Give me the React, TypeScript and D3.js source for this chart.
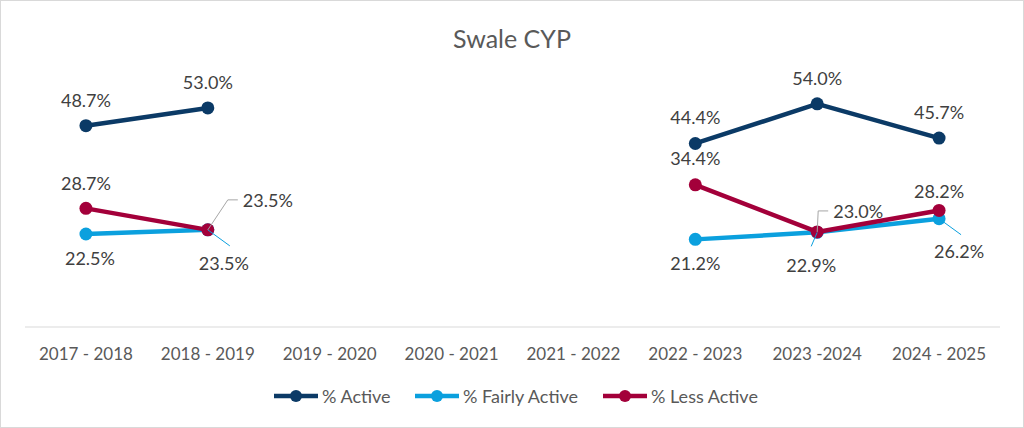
import * as d3 from "d3";

const categories = [
  "2017 - 2018", "2018 - 2019", "2019 - 2020", "2020 - 2021",
  "2021 - 2022", "2022 - 2023", "2023 -2024", "2024 - 2025",
];

const activeValues = [48.7, 53.0, null, null, null, 44.4, 54.0, 45.7];
const fairlyValues = [22.5, 23.5, null, null, null, 21.2, 22.9, 26.2];
const lessValues = [28.7, 23.5, null, null, null, 34.4, 23.0, 28.2];

const seriesNames = ["% Active", "% Fairly Active", "% Less Active"];

// label placement per point: [dx, dy, leader?]
type Place = { dx: number; dy: number; leader?: "up" | "down" };
const activePlace: Place[] = [0, 1, 2, 3, 4, 5, 6, 7].map(() => ({ dx: 0, dy: -26 }));
const fairlyPlace: Place[] = [
  { dx: 4, dy: 24 }, { dx: 16, dy: 33, leader: "down" }, { dx: 0, dy: 0 }, { dx: 0, dy: 0 },
  { dx: 0, dy: 0 }, { dx: 0, dy: 24 }, { dx: -6, dy: 33, leader: "down" }, { dx: 20, dy: 32, leader: "down" },
];
const lessPlace: Place[] = [
  { dx: 0, dy: -25 }, { dx: 60, dy: -30, leader: "up" }, { dx: 0, dy: 0 }, { dx: 0, dy: 0 },
  { dx: 0, dy: 0 }, { dx: 0, dy: -27 }, { dx: 41, dy: -21, leader: "up" }, { dx: 0, dy: -19 },
];

const COLORS = ["#0B3A66", "#0BA0DE", "#A3003A"];
const W = 1024;
const H = 428;
const FONT = "Lato, 'Open Sans', sans-serif";

export default function App() {
  const x = d3.scalePoint<string>().domain(categories).range([25, 1000]).padding(0.5);
  const y = d3.scaleLinear().domain([0, 60]).range([327, 79]);
  const line = d3
    .line<number | null>()
    .defined((d) => d != null)
    .x((_, i) => x(categories[i]) as number)
    .y((d) => y(d as number));

  const all = [activeValues, fairlyValues, lessValues];
  const places = [activePlace, fairlyPlace, lessPlace];

  const legendX = [274, 415, 603];

  return (
    <svg
      width={W}
      height={H}
      style={{ position: "absolute", left: 0, top: 0, fontFamily: FONT }}
    >
      <rect x={0.5} y={0.5} width={W - 1} height={H - 1} fill="#fff" stroke="#D9D9D9" />
      <text x={512} y={48} textAnchor="middle" fontSize={25} fill="#595959">
        Swale CYP
      </text>
      <line x1={25} x2={1000} y1={y(0)} y2={y(0)} stroke="#D9D9D9" strokeWidth={1.2} />
      {categories.map((c) => (
        <text key={c} x={x(c)} y={360} textAnchor="middle" fontSize={17} fill="#595959">
          {c}
        </text>
      ))}
      {all.map((vals, s) => (
        <g key={s}>
          <path d={line(vals) ?? ""} fill="none" stroke={COLORS[s]} strokeWidth={4.5} strokeLinejoin="round" />
          {vals.map((v, i) =>
            v == null ? null : (
              <circle key={i} cx={x(categories[i])} cy={y(v)} r={6.5} fill={COLORS[s]} />
            )
          )}
        </g>
      ))}
      {all.map((vals, s) => (
        <g key={"l" + s}>
          {vals.map((v, i) => {
            if (v == null) return null;
            const px = x(categories[i]) as number;
            const py = y(v);
            const p = places[s][i];
            const lx = px + p.dx;
            const ly = py + p.dy;
            let leader = null;
            if (p.leader === "up") {
              const ex = lx - 30;
              leader = (
                <polyline
                  points={`${px},${py} ${ex - 10},${ly} ${ex},${ly}`}
                  fill="none"
                  stroke="#A6A6A6"
                  strokeWidth={1}
                />
              );
            } else if (p.leader === "down") {
              const ex = s === 1 && i === 6 ? px - 6 : px + 22;
              const ey = s === 1 && i === 6 ? py + 14 : py + 16;
              leader = (
                <line x1={px} y1={py} x2={ex} y2={ey} stroke={COLORS[s]} strokeWidth={1} />
              );
            }
            return (
              <g key={i}>
                {leader}
                <text x={lx} y={ly} textAnchor="middle" dominantBaseline="central" fontSize={18} fill="#404040">
                  {d3.format(".1f")(v) + "%"}
                </text>
              </g>
            );
          })}
        </g>
      ))}
      {seriesNames.map((n, s) => (
        <g key={n}>
          <line x1={legendX[s]} x2={legendX[s] + 44} y1={396} y2={396} stroke={COLORS[s]} strokeWidth={4.5} />
          <circle cx={legendX[s] + 22} cy={396} r={6} fill={COLORS[s]} />
          <text x={legendX[s] + 48} y={396} dominantBaseline="central" fontSize={18} fill="#595959">
            {n}
          </text>
        </g>
      ))}
    </svg>
  );
}
